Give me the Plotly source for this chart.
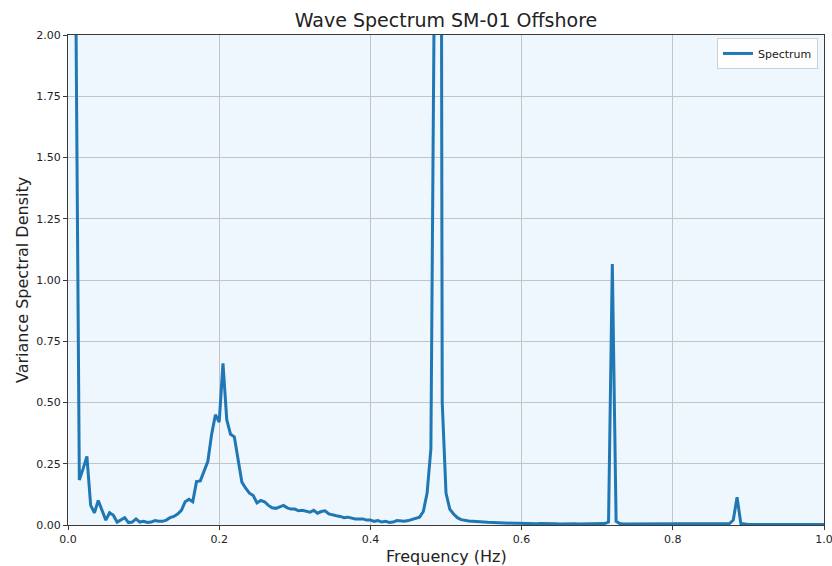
import plotly.graph_objects as go

# Spectral estimate on a uniform frequency grid (0 .. 1 Hz, 0.005 Hz bins)
FREQ_STEP = 0.005

density = [
    6.0, 9.0, 2.3, 0.184, 0.23, 0.28, 0.08, 0.05, 0.10, 0.06,
    0.02, 0.05, 0.04, 0.012, 0.02, 0.03, 0.01, 0.012, 0.025, 0.012,
    0.015, 0.01, 0.012, 0.018, 0.015, 0.015, 0.02, 0.03, 0.035, 0.045,
    0.06, 0.095, 0.105, 0.095, 0.177, 0.18, 0.22, 0.26, 0.37, 0.45,
    0.42, 0.66, 0.43, 0.37, 0.36, 0.27, 0.175, 0.15, 0.13, 0.12,
    0.09, 0.10, 0.095, 0.08, 0.07, 0.068, 0.075, 0.08, 0.07, 0.065,
    0.065, 0.058, 0.06, 0.055, 0.052, 0.06, 0.048, 0.055, 0.058, 0.045,
    0.04, 0.038, 0.035, 0.03, 0.032, 0.028, 0.025, 0.025, 0.025, 0.02,
    0.02, 0.015, 0.018, 0.012, 0.015, 0.01, 0.012, 0.018, 0.015, 0.015,
    0.018, 0.022, 0.028, 0.032, 0.055, 0.13, 0.31, 2.4, 9.0, 0.5,
    0.13, 0.065, 0.045, 0.03, 0.022, 0.018, 0.016, 0.015, 0.013, 0.012,
    0.012, 0.011, 0.01, 0.009, 0.009, 0.008, 0.008, 0.007, 0.007, 0.007,
    0.006, 0.006, 0.006, 0.006, 0.005, 0.006, 0.005, 0.005, 0.005, 0.005,
    0.004, 0.005, 0.004, 0.004, 0.005, 0.004, 0.004, 0.004, 0.004, 0.004,
    0.004, 0.005, 0.006, 0.012, 1.065, 0.015, 0.006, 0.004, 0.004, 0.004,
    0.003, 0.004, 0.003, 0.003, 0.003, 0.003, 0.003, 0.003, 0.003, 0.003,
    0.003, 0.003, 0.003, 0.003, 0.003, 0.003, 0.003, 0.003, 0.003, 0.003,
    0.003, 0.003, 0.003, 0.003, 0.003, 0.006, 0.02, 0.113, 0.006, 0.003,
    0.002, 0.002, 0.002, 0.002, 0.002, 0.002, 0.002, 0.002, 0.002, 0.002,
    0.002, 0.002, 0.002, 0.002, 0.002, 0.002, 0.002, 0.002, 0.002, 0.002,
    0.002,
]
frequency = [round(i * FREQ_STEP, 4) for i in range(len(density))]

x_ticks = [0.0, 0.2, 0.4, 0.6, 0.8, 1.0]
y_ticks = [0.0, 0.25, 0.5, 0.75, 1.0, 1.25, 1.5, 1.75, 2.0]

FONT = "DejaVu Sans, Liberation Sans, sans-serif"
TEXT_COLOR = "#222222"
AXIS_COLOR = "#3a3a3a"
GRID_COLOR = "#c4c4c4"

W, H = 832, 566
M_L, M_R, M_T, M_B = 68, 8, 35, 41

fig = go.Figure()
fig.add_trace(go.Scatter(
    x=frequency,
    y=density,
    mode="lines",
    name="Spectrum",
    line=dict(color="#1f77b4", width=3),
))

fig.update_layout(
    width=W,
    height=H,
    margin=dict(l=M_L, r=M_R, t=M_T, b=M_B, autoexpand=False),
    paper_bgcolor="white",
    plot_bgcolor="#eef6fe",
    font=dict(family=FONT, size=11, color=TEXT_COLOR),
    title=dict(
        text="Wave Spectrum SM-01 Offshore",
        font=dict(family=FONT, size=19, color=TEXT_COLOR),
        x=0.5, xref="paper", xanchor="center",
        y=1 - 20 / H, yref="container", yanchor="middle",
    ),
    showlegend=True,
    legend=dict(
        x=0.992, y=0.994, xanchor="right", yanchor="top",
        bgcolor="rgba(255,255,255,0.9)",
        bordercolor="#d0d0d0", borderwidth=1,
        font=dict(family=FONT, size=11, color=TEXT_COLOR),
    ),
    annotations=[
        dict(
            text="Frequency (Hz)", xref="paper", yref="paper",
            x=0.5, y=-(556 - (H - M_B)) / (H - M_T - M_B),
            xanchor="center", yanchor="middle", showarrow=False,
            font=dict(family=FONT, size=16, color=TEXT_COLOR),
        ),
        dict(
            text="Variance Spectral Density", xref="paper", yref="paper",
            x=-(M_L - 22) / (W - M_L - M_R), y=0.5,
            xanchor="center", yanchor="middle", showarrow=False, textangle=-90,
            font=dict(family=FONT, size=16, color=TEXT_COLOR),
        ),
    ],
)

fig.update_xaxes(
    range=[0, 1],
    tickvals=x_ticks,
    ticktext=[f"{v:.1f}" for v in x_ticks],
    ticks="outside", ticklen=4, tickwidth=1, tickcolor=AXIS_COLOR,
    ticklabeloverflow="allow",
    showline=True, linecolor=AXIS_COLOR, linewidth=1, mirror=True,
    showgrid=True, gridcolor=GRID_COLOR, gridwidth=1,
    zeroline=False, automargin=False,
)
fig.update_yaxes(
    range=[0, 2],
    tickvals=y_ticks,
    ticktext=[f"{v:.2f}" for v in y_ticks],
    ticks="outside", ticklen=4, tickwidth=1, tickcolor=AXIS_COLOR,
    ticklabeloverflow="allow",
    showline=True, linecolor=AXIS_COLOR, linewidth=1, mirror=True,
    showgrid=True, gridcolor=GRID_COLOR, gridwidth=1,
    zeroline=False, automargin=False,
)

fig.write_html("out.html")
